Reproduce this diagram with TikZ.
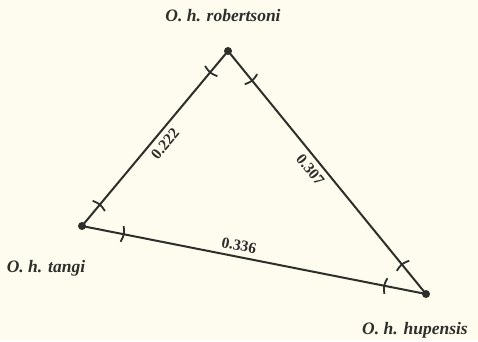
\documentclass[tikz,border=0pt]{standalone}
\usepackage{fontspec}
\setmainfont{Liberation Serif}
\usepackage{xcolor}
\usetikzlibrary{decorations.markings}
\definecolor{bgCream}{HTML}{FDFCEF}
\definecolor{lineGray}{HTML}{2E2E2A}

\begin{document}
\begin{tikzpicture}[x=1pt, y=-1pt,
      taxon/.style={font=\fontsize{17.5}{20}\selectfont\bfseries\itshape, text=lineGray},
      dist/.style={font=\fontsize{15.5}{18}\selectfont\bfseries, text=lineGray, sloped, inner sep=5pt},
      vertex/.style={circle, fill=lineGray, inner sep=0pt, minimum size=8pt},
      edge/.style={line width=2pt, lineGray, postaction={decorate},
                   decoration={markings,
                     mark=at position 0.12 with {\draw[line width=1.8pt] (-1.2,-8) .. controls (1.2,0) .. (-1.2,8);},
                     mark=at position 0.88 with {\draw[line width=1.8pt] (1.2,-8) .. controls (-1.2,0) .. (1.2,8);}}}
    ]
    \fill[bgCream] (0,0) rectangle (478,340);
    \node[vertex] (rob) at (228,51)  {};
    \node[vertex] (tan) at (82,226)  {};
    \node[vertex] (hup) at (426,294) {};
    \node[taxon] (robL) at (223,16)  {O. h. robertsoni};
    \node[taxon] (tanL) at (46,268)  {O. h. tangi};
    \node[taxon] (hupL) at (415,330) {O. h. hupensis};
    \draw[edge] (tan.center) -- node[dist, pos=0.51, below] {0.222} (rob.center);
    \draw[edge] (rob.center) -- node[dist, pos=0.46, below] {0.307} (hup.center);
    \draw[edge] (tan.center) -- node[dist, pos=0.45, above] {0.336} (hup.center);
\end{tikzpicture}
\end{document}
